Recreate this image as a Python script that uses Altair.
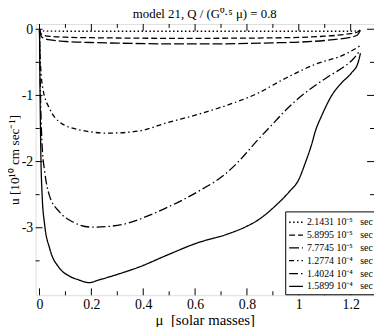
import altair as alt
import pandas as pd

# ---- data ----
series_names = ["2.1431 10⁻⁵", "5.8995 10⁻⁵", "7.7745 10⁻⁵",
                "1.2774 10⁻⁴", "1.4024 10⁻⁴", "1.5899 10⁻⁴"]

mu1 = [0, 0.005, 0.02, 0.1, 0.3, 0.6, 0.9, 1.1, 1.2, 1.235]
u1 = [0, -0.02, -0.028, -0.03, -0.03, -0.03, -0.03, -0.03, -0.03, -0.02]

mu2 = [0, 0.002, 0.005, 0.01, 0.02, 0.05, 0.1, 0.2, 0.3, 0.5, 0.7, 0.9, 1.0, 1.1, 1.15, 1.2, 1.225, 1.24]
u2 = [0, -0.03, -0.06, -0.08, -0.095, -0.11, -0.12, -0.128, -0.132, -0.137, -0.136, -0.13, -0.123,
      -0.105, -0.09, -0.065, -0.045, 0.0]

mu3 = [0, 0.002, 0.005, 0.01, 0.02, 0.05, 0.1, 0.2, 0.3, 0.5, 0.7, 0.9, 1.0, 1.1, 1.15, 1.2, 1.225, 1.24]
u3 = [0, -0.05, -0.09, -0.12, -0.14, -0.165, -0.185, -0.2, -0.21, -0.22, -0.22, -0.205, -0.195,
      -0.17, -0.15, -0.12, -0.09, 0.0]

mu4 = [0, 0.002, 0.005, 0.013, 0.039, 0.077, 0.153, 0.266, 0.38, 0.494, 0.608, 0.722, 0.835,
       0.949, 1.063, 1.177, 1.228, 1.24]
u4 = [0, -0.35, -0.6, -0.9, -1.2, -1.4, -1.52, -1.57, -1.54, -1.41, -1.29, -1.15, -0.98,
      -0.74, -0.53, -0.38, -0.27, -0.24]

mu5 = [0, 0.002, 0.005, 0.01, 0.02, 0.038, 0.077, 0.127, 0.203, 0.266, 0.342, 0.418, 0.494,
       0.608, 0.722, 0.76, 0.8, 0.84, 0.9, 0.95, 1.0, 1.063, 1.12, 1.177, 1.21, 1.234]
u5 = [0, -0.6, -1.2, -1.75, -2.15, -2.51, -2.76, -2.91, -2.99, -2.98, -2.93, -2.82, -2.69,
      -2.46, -2.17, -2.03, -1.86, -1.68, -1.43, -1.22, -1.04, -0.85, -0.70, -0.56, -0.45, -0.33]

mu6 = [0, 0.002, 0.005, 0.01, 0.02, 0.039, 0.077, 0.115, 0.153, 0.19, 0.228, 0.304, 0.38,
       0.494, 0.608, 0.722, 0.798, 0.836, 0.912, 0.962, 1.0, 1.025, 1.051, 1.063, 1.089,
       1.127, 1.165, 1.203, 1.228, 1.238]
u6 = [0, -0.9, -1.85, -2.5, -2.96, -3.31, -3.61, -3.73, -3.79, -3.83, -3.79, -3.70, -3.60,
      -3.41, -3.23, -3.10, -2.98, -2.90, -2.66, -2.46, -2.27, -2.02, -1.72, -1.55, -1.30,
      -1.00, -0.81, -0.66, -0.51, -0.36]

x_major = [0, 0.2, 0.4, 0.6, 0.8, 1.0, 1.2]
x_minor = [0.1, 0.3, 0.5, 0.7, 0.9, 1.1]
y_major = [0, -1, -2, -3]
y_minor = [-0.5, -1.5, -2.5, -3.5]

# ---- styling ----
FONT = "Liberation Serif, Times New Roman, serif"
W, H = 343, 275
XDOM = [-0.015, 1.29]
YDOM = [-4.02, 0.08]
dashes = [[1.5, 2.5], [6, 3], [10, 3], [5, 3, 1.5, 3], [9, 3, 1.5, 3], [1, 0]]

rows = []
for name, ms, us in zip(series_names, [mu1, mu2, mu3, mu4, mu5, mu6], [u1, u2, u3, u4, u5, u6]):
    for m, u in zip(ms, us):
        rows.append({"mu": m, "u": u, "series": name})
df = pd.DataFrame(rows)

xs = alt.Scale(domain=XDOM, nice=False, zero=False)
ys = alt.Scale(domain=YDOM, nice=False, zero=False)

x_axis = alt.Axis(values=x_major, labelExpr="toString(datum.value)", ticks=False,
                  domain=False, grid=False, labelFont=FONT, labelFontSize=14,
                  labelColor="black", labelPadding=2,
                  title="μ\u00a0\u00a0[solar masses]", titleFont=FONT, titleFontSize=15,
                  titleFontWeight="normal", titleColor="black", titlePadding=2)
y_axis = alt.Axis(values=y_major, labelExpr="toString(datum.value)", ticks=False,
                  domain=False, grid=False, labelFont=FONT, labelFontSize=14,
                  labelColor="black", labelPadding=3,
                  title="u [10¹⁰ cm sec⁻¹]", titleFont=FONT, titleFontSize=13.5,
                  titleFontWeight="normal", titleColor="black", titlePadding=0)

lines = alt.Chart(df).mark_line(color="black", strokeWidth=1.3, interpolate="monotone").encode(
    x=alt.X("mu:Q", scale=xs, axis=x_axis),
    y=alt.Y("u:Q", scale=ys, axis=y_axis),
    strokeDash=alt.StrokeDash("series:N",
                              scale=alt.Scale(domain=series_names, range=dashes),
                              legend=alt.Legend(title=None, orient="none", legendX=253, legendY=190,
                                                symbolType="stroke", symbolSize=196,
                                                symbolStrokeWidth=1.3, symbolStrokeColor="black",
                                                labelFont=FONT, labelFontSize=10, labelColor="black",
                                                labelExpr="datum.label + '\u00a0\u00a0 sec'",
                                                labelOffset=3, rowPadding=-1, padding=3,
                                                strokeColor="black", fillColor="white")),
    order=alt.Order("mu:Q"),
)

def vticks(vals, length, top):
    d = pd.DataFrame({"mu": vals})
    y0 = 0 if top else H
    y1 = length if top else H - length
    return alt.Chart(d).mark_rule(color="black", strokeWidth=1).encode(
        x=alt.X("mu:Q", scale=xs, axis=x_axis), y=alt.value(y0), y2=alt.value(y1))

def hticks(vals, length, right):
    d = pd.DataFrame({"u": vals})
    x0 = W if right else 0
    x1 = W - length if right else length
    return alt.Chart(d).mark_rule(color="black", strokeWidth=1).encode(
        y=alt.Y("u:Q", scale=ys, axis=y_axis), x=alt.value(x0), x2=alt.value(x1))

ticks = [
    vticks(x_major, 7, False), vticks(x_minor, 4, False),
    vticks(x_major, 7, True), vticks(x_minor, 4, True),
    hticks(y_major, 7, False), hticks(y_minor, 4, False),
    hticks(y_major, 7, True), hticks(y_minor, 4, True),
]

chart = alt.layer(lines, *ticks).properties(
    width=W, height=H,
    autosize="none",
    padding={"left": 28, "top": 14, "right": 0, "bottom": 30},
    title=alt.TitleParams("model  21, Q / (G⁰·⁵ μ) = 0.8", font=FONT, fontSize=13,
                          fontWeight="normal", color="black", offset=1, anchor="middle"),
).configure_view(stroke="black", strokeWidth=1).configure(background="white")

chart.save("out.html", embed_options={"renderer": "svg", "actions": False})
